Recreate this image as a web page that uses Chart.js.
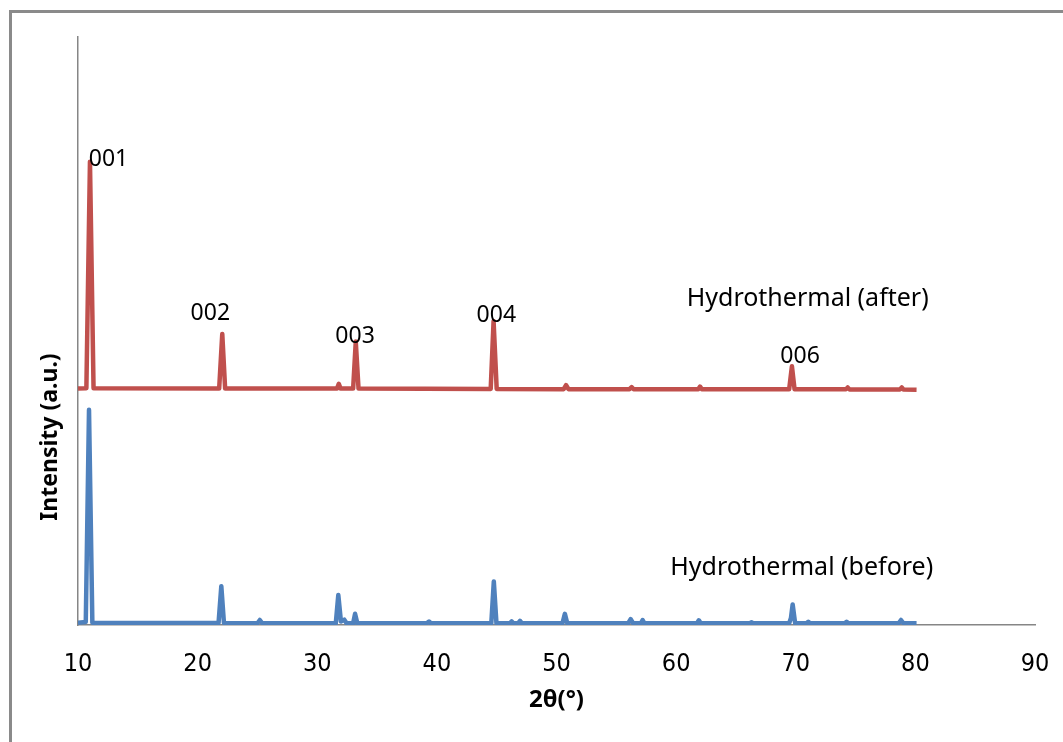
<!DOCTYPE html>
<html>
<head>
<meta charset="utf-8">
<script src="https://cdn.jsdelivr.net/npm/chart.js@4"></script>
<style>
  html, body { margin:0; padding:0; background:#fff; }
  #frame { position:absolute; left:9px; top:10px; width:1060px; height:740px;
           border-left:3px solid #8a8a8a; border-top:3px solid #8a8a8a; }
  #chart { position:absolute; left:0; top:0; }
</style>
</head>
<body>
<div id="frame"></div>
<canvas id="chart" width="1063" height="742"></canvas>
<script>
// Hydrothermal (after) – 2θ and intensity (offset trace)
const afterX = [10.0, 10.7, 11.0, 11.3, 21.8, 22.06, 22.3, 31.65, 31.8, 31.95, 33.0, 33.22, 33.45,
  44.5, 44.74, 45.0, 50.6, 50.8, 51.0, 56.1, 56.28, 56.45, 61.85, 62.0, 62.15,
  69.45, 69.68, 69.9, 74.2, 74.34, 74.5, 78.7, 78.86, 79.0, 80.1];
const afterY = [40.2, 40.25, 78.8, 40.25, 40.2, 49.5, 40.2, 40.2, 41.0, 40.2, 40.2, 48.2, 40.2,
  40.15, 51.7, 40.15, 40.1, 40.8, 40.1, 40.1, 40.45, 40.1, 40.1, 40.55, 40.1,
  40.1, 44.0, 40.1, 40.1, 40.4, 40.05, 40.05, 40.4, 40.05, 40.0];

// Hydrothermal (before)
const beforeX = [10.0, 10.65, 10.92, 11.2, 21.75, 21.98, 22.2, 25.0, 25.2, 25.4,
  31.55, 31.76, 31.98, 32.26, 32.45, 33.0, 33.16, 33.35, 39.15, 39.34, 39.5,
  44.55, 44.76, 44.98, 46.1, 46.25, 46.4, 46.8, 46.95, 47.1, 50.5, 50.7, 50.9,
  56.0, 56.2, 56.4, 57.05, 57.2, 57.35, 61.75, 61.9, 62.05, 66.15, 66.3, 66.45,
  69.45, 69.6, 69.74, 69.95, 70.9, 71.05, 71.2, 74.1, 74.25, 74.4, 78.6, 78.8, 79.0, 80.1];
const beforeY = [0.4, 0.5, 36.6, 0.4, 0.35, 6.6, 0.35, 0.3, 0.85, 0.3,
  0.3, 5.1, 0.6, 0.9, 0.3, 0.3, 1.9, 0.3, 0.3, 0.6, 0.3,
  0.3, 7.4, 0.3, 0.3, 0.6, 0.3, 0.3, 0.7, 0.3, 0.3, 1.9, 0.3,
  0.3, 1.0, 0.3, 0.3, 0.85, 0.3, 0.3, 0.8, 0.3, 0.3, 0.45, 0.3,
  0.3, 1.2, 3.5, 0.3, 0.3, 0.55, 0.3, 0.3, 0.55, 0.3, 0.3, 0.85, 0.3, 0.3];

// Peak (hkl) labels and where their text sits (data units)
const peakLabels = ["001", "002", "003", "004", "006"];
const peakLabelX = [12.55, 21.06, 33.16, 44.97, 70.36];
const peakLabelY = [79.1, 52.9, 49.1, 52.6, 45.6];

const seriesNames = ["Hydrothermal (after)", "Hydrothermal (before)"];
const seriesLabelX = [71.0, 70.5];
const seriesLabelY = [55.4, 9.7];

const xTicks = [10, 20, 30, 40, 50, 60, 70, 80, 90];

function pts(xs, ys){ return xs.map(function(x, i){ return { x: x, y: ys[i] }; }); }

const labelPlugin = {
  id: "labelPlugin",
  afterDatasetsDraw(chart){
    const { ctx, scales: { x, y } } = chart;
    ctx.save();
    ctx.fillStyle = "#000";
    ctx.textAlign = "center";
    ctx.textBaseline = "middle";
    ctx.font = "23px 'Noto Sans'";
    peakLabels.forEach(function(t, i){
      ctx.fillText(t, x.getPixelForValue(peakLabelX[i]), y.getPixelForValue(peakLabelY[i]));
    });
    ctx.font = "25px 'Noto Sans'";
    seriesNames.forEach(function(t, i){
      ctx.fillText(t, x.getPixelForValue(seriesLabelX[i]), y.getPixelForValue(seriesLabelY[i]));
    });
    // y axis title (Excel puts it lower than the axis middle)
    ctx.translate(50, 437);
    ctx.rotate(-Math.PI / 2);
    ctx.font = "bold 23px 'Noto Sans'";
    ctx.fillText("Intensity (a.u.)", 0, 0);
    ctx.restore();
  }
};

new Chart(document.getElementById("chart"), {
  type: "line",
  data: {
    datasets: [
      { label: seriesNames[0], data: pts(afterX, afterY), borderColor: "#C0504D",
        borderWidth: 4.5, pointRadius: 0, tension: 0, borderJoinStyle: "round" },
      { label: seriesNames[1], data: pts(beforeX, beforeY), borderColor: "#4F81BD",
        borderWidth: 4.5, pointRadius: 0, tension: 0, borderJoinStyle: "round" }
    ]
  },
  options: {
    responsive: false,
    animation: false,
    devicePixelRatio: 1,
    layout: { padding: { left: 0, top: 37, right: 28, bottom: 0 } },
    plugins: { legend: { display: false }, tooltip: { enabled: false } },
    scales: {
      x: {
        type: "linear", min: 10, max: 90,
        afterBuildTicks: function(s){ s.ticks = xTicks.map(function(v){ return { value: v }; }); },
        afterFit: function(s){ s.height = 117; s.paddingLeft = 0; s.paddingRight = 0; },
        grid: { display: false, drawTicks: false },
        border: { display: true, color: "#868686", width: 1.5 },
        ticks: { color: "#000", padding: 24, maxRotation: 0,
                 font: { family: "'Liberation Sans Narrow', 'DejaVu Sans Condensed', sans-serif", size: 25 } },
        title: { display: true, text: "2θ(°)", color: "#000",
                 font: { family: "'Noto Sans'", size: 24, weight: "bold" },
                 padding: { top: 0, bottom: 27 } }
      },
      y: {
        type: "linear", min: 0, max: 100,
        afterFit: function(s){ s.width = 78; },
        grid: { display: false, drawTicks: false },
        border: { display: true, color: "#868686", width: 1.5 },
        ticks: { display: false },
        title: { display: false }
      }
    }
  },
  plugins: [labelPlugin]
});
</script>
</body>
</html>
